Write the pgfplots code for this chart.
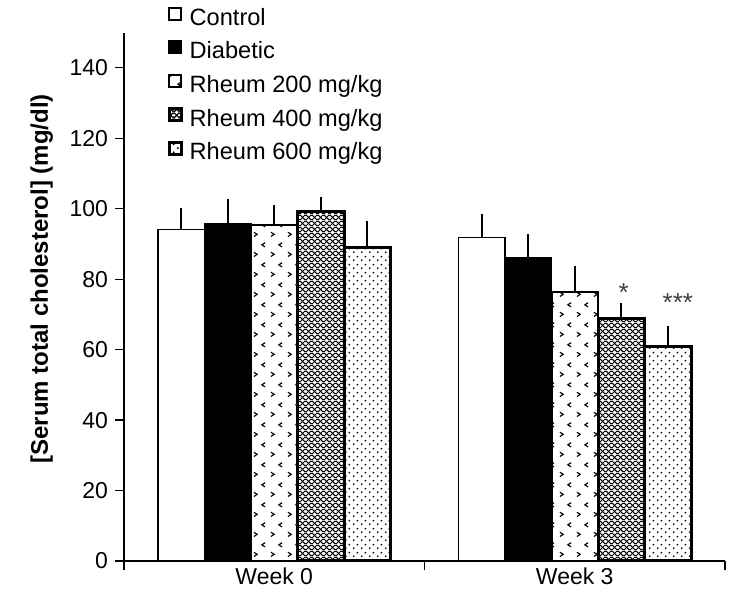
\documentclass[border=0pt]{standalone}
\usepackage{pgfplots}
\pgfplotsset{compat=1.18}
\usepackage{pgfplotstable}
\usepackage{fontspec}
\setmainfont{Liberation Sans}
\usetikzlibrary{patterns.meta}

\tikzdeclarepattern{name=chev, type=colored,
  bottom left={(0pt,0pt)}, top right={(8.4pt,10pt)}, tile size={(8.4pt,10pt)},
  code={
    \draw[black,line width=0.6pt] (1.0pt,0.8pt) -- (2.6pt,1.9pt) -- (1.0pt,3.0pt);
    \draw[black,line width=0.6pt] (6.6pt,5.8pt) -- (5.0pt,6.9pt) -- (6.6pt,8.0pt);
  }}
\tikzdeclarepattern{name=mesh, type=colored,
  bottom left={(0pt,0pt)}, top right={(3pt,3pt)}, tile size={(3pt,3pt)},
  code={
    \draw[black,line width=0.6pt] (0pt,0pt) -- (3pt,3pt);
    \draw[black,line width=0.6pt] (0pt,3pt) -- (3pt,0pt);
  }}
\tikzdeclarepattern{name=sdots, type=colored,
  bottom left={(0pt,0pt)}, top right={(4pt,4pt)}, tile size={(4pt,4pt)},
  code={
    \fill[black] (1pt,1pt) circle (0.55pt);
    \fill[black] (3pt,3pt) circle (0.55pt);
  }}

\pgfplotstableread{
x y e
0 94.1 4.4
1 91.8 5.2
}\control
\pgfplotstableread{
x y e
0 95.7 5.5
1 86.0 5.2
}\diabetic
\pgfplotstableread{
x y e
0 95.3 4.2
1 76.4 5.7
}\rtwo
\pgfplotstableread{
x y e
0 99.1 2.5
1 68.9 2.8
}\rfour
\pgfplotstableread{
x y e
0 89.1 5.9
1 60.8 4.3
}\rsix

\begin{document}
\begin{tikzpicture}
\begin{axis}[
  scale only axis, width=300.5pt, height=264.2pt,
  ybar, bar width=0.155,
  xmin=-0.5, xmax=1.5, ymin=0, ymax=150,
  axis lines=left,
  axis line style={-, line width=0.6pt},
  ytick={0,20,...,140},
  xtick={-0.5,0.5,1.5}, xticklabels={},
  extra x ticks={0,1}, extra x tick labels={Week 0,Week 3},
  extra x tick style={major tick length=0pt},
  tick align=outside, major tick length=4.5pt,
  tick style={black, line width=0.6pt},
  /pgf/number format/assume math mode=true,
  tick label style={font=\fontsize{11.5}{13}\selectfont},
  ylabel={[Serum total cholesterol] (mg/dl)},
  ylabel style={font=\fontsize{12}{14}\selectfont\bfseries, at={(axis description cs:-0.137,0.534)}, anchor=center},
  legend style={draw=none, fill=none, at={(0.072,1)}, anchor=north west, yshift=12.8pt,
    font=\fontsize{11.8}{13}\selectfont, inner sep=0pt, row sep=5pt, column sep=3.5pt,
    nodes={inner sep=0pt, text height=8.5pt, text depth=2.5pt}},
  legend cell align=left,
  legend image code/.code={\draw[#1] (0pt,-0.3pt) rectangle (6pt,5.7pt);},
  error bars/y dir=plus, error bars/y explicit,
  error bars/error bar style={line width=1pt, black},
  error bars/error mark options={black, mark size=2.8pt, line width=1pt},
  clip=false,
]
\addplot[bar shift=-0.31, fill=white, draw=black, line width=0.7pt] table[x=x,y=y,y error=e] {\control};
\addplot[bar shift=-0.155, fill=black, draw=black, line width=0.7pt] table[x=x,y=y,y error=e] {\diabetic};
\addplot[bar shift=0, pattern=chev, draw=black, line width=1.2pt] table[x=x,y=y,y error=e] {\rtwo};
\addplot[bar shift=0.155, pattern=mesh, draw=black, line width=1.5pt] table[x=x,y=y,y error=e] {\rfour};
\addplot[bar shift=0.31, pattern=sdots, draw=black, line width=1.5pt] table[x=x,y=y,y error=e] {\rsix};
\legend{Control, Diabetic, Rheum 200 mg/kg, Rheum 400 mg/kg, Rheum 600 mg/kg}
\node[font=\fontsize{13}{15}\selectfont, text=black!75] at (axis cs:1.163,76.2) {*};
\node[font=\fontsize{13}{15}\selectfont, text=black!75] at (axis cs:1.343,73.3) {***};
\end{axis}
\pgfresetboundingbox
\path[use as bounding box] ([shift={(-62pt,-18.5pt)}]current axis.south west) rectangle ++(366.5pt,299pt);
\end{tikzpicture}
\end{document}
